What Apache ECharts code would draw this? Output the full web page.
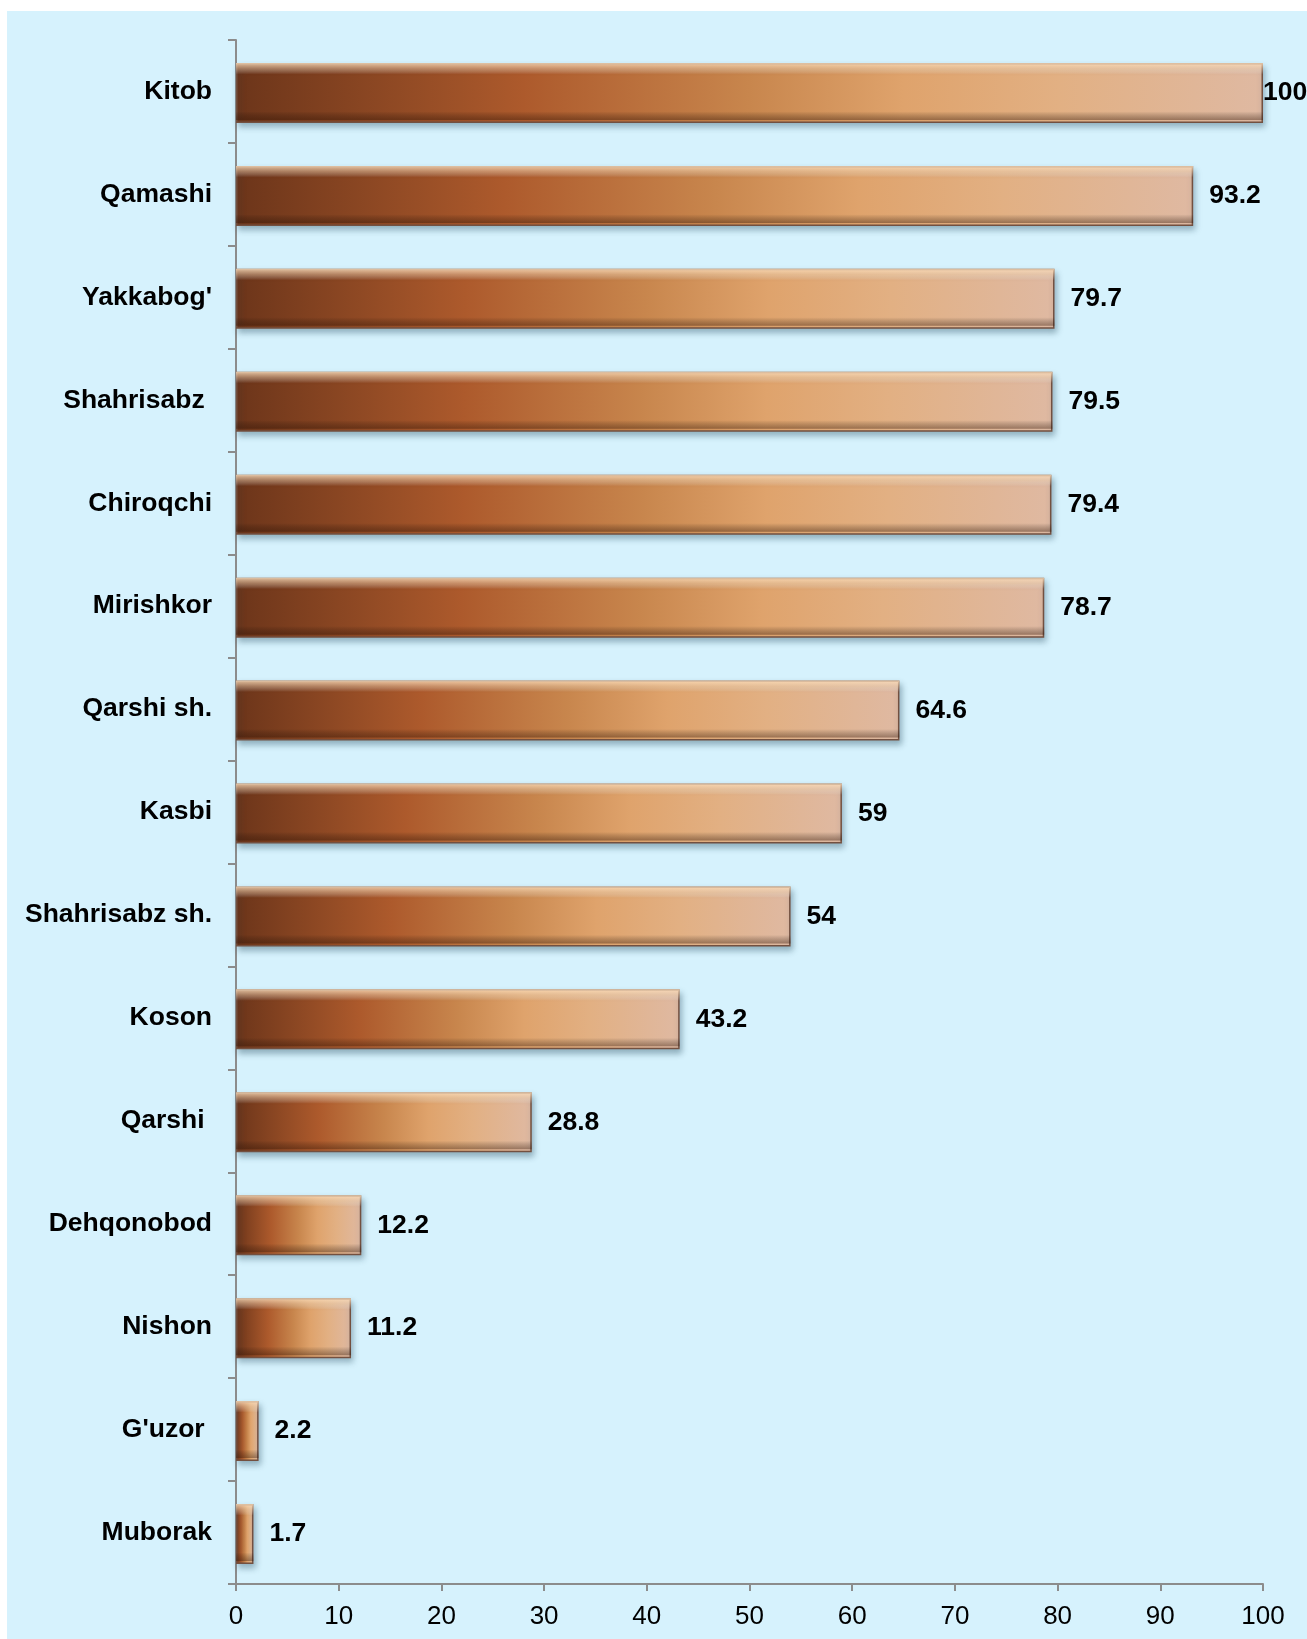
<!DOCTYPE html>
<html>
<head>
<meta charset="utf-8">
<script src="https://cdn.jsdelivr.net/npm/echarts@6/dist/echarts.min.js"></script>
<style>
  html, body { margin: 0; padding: 0; background: #fff; }
  #main { width: 1307px; height: 1639px; }
</style>
</head>
<body>
<div id="main"></div>
<script>
// districts, top to bottom
const districts = [
  "Kitob", "Qamashi", "Yakkabog'", "Shahrisabz ", "Chiroqchi", "Mirishkor",
  "Qarshi sh.", "Kasbi", "Shahrisabz sh.", "Koson", "Qarshi ", "Dehqonobod",
  "Nishon", "G'uzor ", "Muborak"
];
const values = [100, 93.2, 79.7, 79.5, 79.4, 78.7, 64.6, 59, 54, 43.2, 28.8, 12.2, 11.2, 2.2, 1.7];
const xTicks = [0, 10, 20, 30, 40, 50, 60, 70, 80, 90, 100];

const chart = echarts.init(document.getElementById("main"));

const barFill = new echarts.graphic.LinearGradient(0, 0, 1, 0, [
  { offset: 0, color: "#6c351a" },
  { offset: 0.28, color: "#ad5a2c" },
  { offset: 0.5, color: "#c8864d" },
  { offset: 0.65, color: "#dfa36c" },
  { offset: 0.8, color: "#e2b083" },
  { offset: 1, color: "#dfb9a2" }
]);

// top highlight / bottom dark edge to fake the bevel
const bevel = new echarts.graphic.LinearGradient(0, 0, 0, 1, [
  { offset: 0, color: "rgba(255,225,190,0.8)" },
  { offset: 0.1, color: "rgba(255,225,190,0.4)" },
  { offset: 0.2, color: "rgba(255,255,255,0)" },
  { offset: 0.85, color: "rgba(0,0,0,0)" },
  { offset: 1, color: "rgba(50,20,5,0.4)" }
]);

const maxVal = Math.max(...values);

const option = {
  backgroundColor: "#ffffff",
  animation: false,
  graphic: [
    {
      type: "rect",
      z: -10,
      shape: { x: 7, y: 11, width: 1300, height: 1628 },
      style: { fill: "#d6f2fd" }
    }
  ],
  grid: { left: 236, right: 44, top: 40, bottom: 55 },
  xAxis: {
    type: "value",
    min: 0,
    max: 100,
    interval: 10,
    splitLine: { show: false },
    axisLine: { show: true, lineStyle: { color: "#8c8c8c", width: 2 } },
    axisTick: { show: true, length: 7, lineStyle: { color: "#8c8c8c", width: 2 } },
    axisLabel: {
      color: "#000",
      fontSize: 26,
      fontFamily: "Liberation Sans, Arial, sans-serif",
      margin: 20,
      formatter: (v) => (xTicks.includes(v) ? String(v) : "")
    }
  },
  yAxis: {
    type: "category",
    data: districts,
    inverse: true,
    axisLine: { show: true, lineStyle: { color: "#8c8c8c", width: 2 } },
    axisTick: { show: true, length: 8, lineStyle: { color: "#8c8c8c", width: 2 } },
    axisLabel: {
      color: "#000",
      fontSize: 26.5,
      fontWeight: "bold",
      fontFamily: "Liberation Sans, Arial, sans-serif",
      margin: 24
    }
  },
  series: [
    {
      name: "main",
      type: "bar",
      barWidth: 60,
      data: values.map((v) => ({
        value: v,
        label: { distance: v === maxVal ? 0 : 16 }
      })),
      itemStyle: {
        color: barFill,
        borderColor: "#735040",
        borderWidth: 1.5,
        shadowColor: "rgba(20,60,80,0.35)",
        shadowBlur: 6,
        shadowOffsetX: 2,
        shadowOffsetY: 4
      },
      label: {
        show: true,
        position: "right",
        color: "#000",
        fontSize: 26.5,
        fontWeight: "bold",
        fontFamily: "Liberation Sans, Arial, sans-serif"
      },
      z: 2
    },
    {
      name: "bevel",
      type: "bar",
      barWidth: 57,
      barGap: "-100%",
      silent: true,
      data: values,
      itemStyle: { color: bevel },
      z: 3
    }
  ]
};

chart.setOption(option);
</script>
</body>
</html>
